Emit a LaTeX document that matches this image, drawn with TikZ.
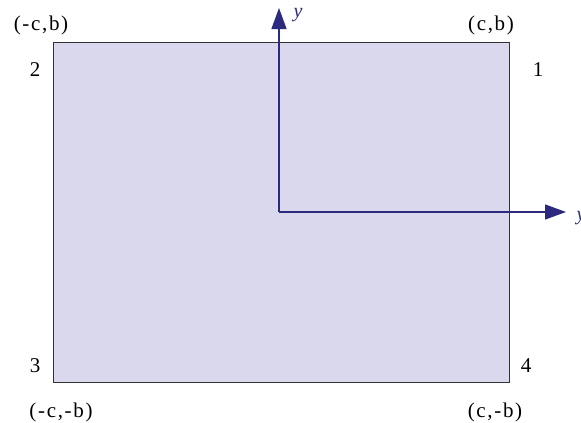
\documentclass[tikz,border=0pt]{standalone}
\usepackage{fontspec}
\setmainfont{Liberation Serif}
\newfontfamily\spacedfont[LetterSpace=8]{Liberation Serif}
\usetikzlibrary{arrows.meta}
\definecolor{platefill}{HTML}{DAD8ED}
\definecolor{axisblue}{HTML}{2B2A7E}
\tikzset{
  cornerlbl/.style={font=\spacedfont\fontsize{21}{24}\selectfont,inner sep=0},
  axislbl/.style={font=\fontsize{20}{23}\selectfont\itshape,text=axisblue,inner sep=0},
  axisline/.style={draw=axisblue,line width=1.3pt,-{Triangle[length=21pt,width=15pt]}},
}

\begin{document}
\begin{tikzpicture}[x=1pt,y=-1pt]
  \useasboundingbox (0,0) rectangle (581,423);
  % plate
  \coordinate (p2) at (53,42);
  \coordinate (p4) at (509,382);
  \draw[fill=platefill,draw=black!80,line width=0.8pt] (p2) rectangle (p4);
  % corner numbers and coordinates
  \node[cornerlbl] (n1) at (538,70) {1};
  \node[cornerlbl] (n2) at (35,70) {2};
  \node[cornerlbl] (n3) at (35,366) {3};
  \node[cornerlbl] (n4) at (526,366) {4};
  \node[cornerlbl] (c1) at (491,25) {(c,b)};
  \node[cornerlbl] (c2) at (41,25) {(-c,b)};
  \node[cornerlbl] (c3) at (61,412) {(-c,-b)};
  \node[cornerlbl] (c4) at (495,412) {(c,-b)};
  % axes
  \coordinate (o) at (279,212);
  \coordinate (ytip) at (279,8);
  \coordinate (xtip) at (566,212);
  \draw[axisline] (o) -- (ytip);
  \draw[axisline] (o) -- (xtip);
  \node[axislbl] (ylbl) at (298,15) {y};
  \node[axislbl] (xlbl) at (581,218) {y};
\end{tikzpicture}
\end{document}
